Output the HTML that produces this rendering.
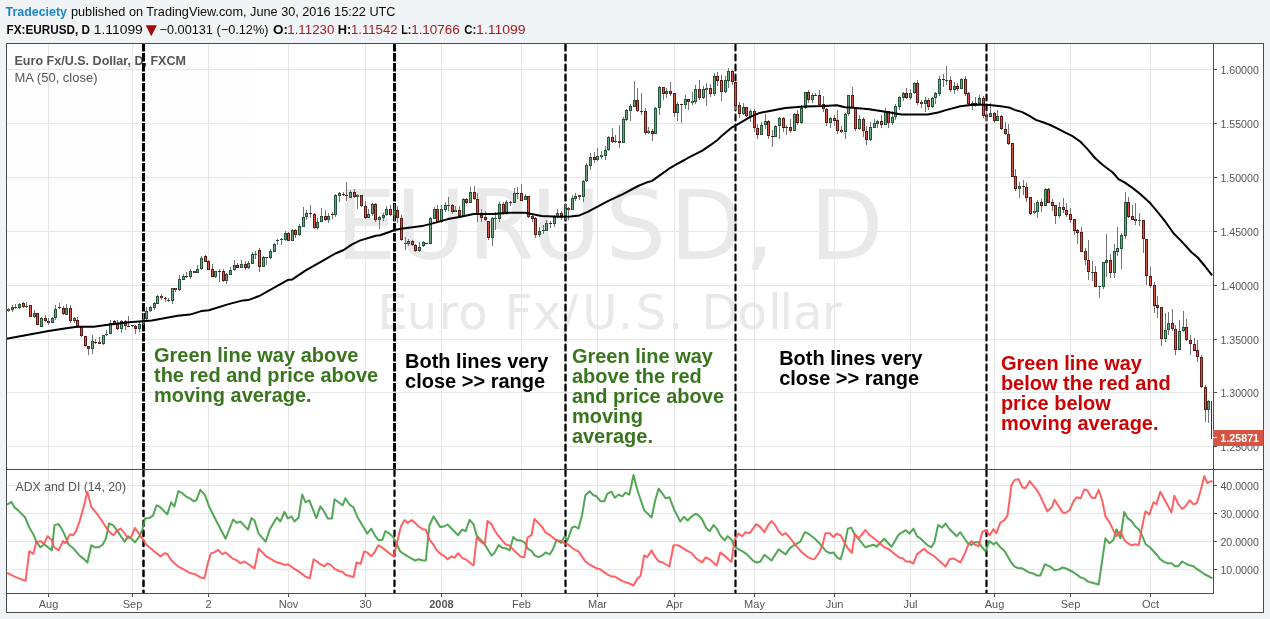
<!DOCTYPE html>
<html><head><meta charset="utf-8"><title>EURUSD chart</title>
<style>html,body{margin:0;padding:0;background:#f0f4f7;}body{width:1270px;height:619px;overflow:hidden}</style></head>
<body>
<svg width="1270" height="619" viewBox="0 0 1270 619" style="display:block;will-change:transform;opacity:0.9999">
<rect width="1270" height="619" fill="#f0f4f7"/>
<rect x="6.5" y="43.5" width="1257.0" height="569.0" fill="#fff"/>
<defs><clipPath id="cpm"><rect x="7.0" y="44.0" width="1206.0" height="425.0"/></clipPath><clipPath id="cp"><rect x="7.0" y="470.0" width="1206.0" height="123.0"/></clipPath></defs>
<path d="M48.5 44.0V593.0M132.5 44.0V593.0M208.5 44.0V593.0M288.5 44.0V593.0M365.5 44.0V593.0M441.5 44.0V593.0M521.5 44.0V593.0M597.5 44.0V593.0M674.5 44.0V593.0M754.5 44.0V593.0M834.5 44.0V593.0M910.5 44.0V593.0M994.5 44.0V593.0M1070.5 44.0V593.0M1150.5 44.0V593.0M7.0 69.5H1212.0M7.0 123.5H1212.0M7.0 177.5H1212.0M7.0 231.5H1212.0M7.0 285.5H1212.0M7.0 339.5H1212.0M7.0 392.5H1212.0M7.0 446.5H1212.0M7.0 485.5H1212.0M7.0 513.5H1212.0M7.0 541.5H1212.0M7.0 569.5H1212.0" stroke="#e6e6e6" stroke-width="1" fill="none" shape-rendering="crispEdges"/>
<g fill="#e9e9e9" font-family="'DejaVu Sans', sans-serif">
<text x="335.8 395.5 467.8 530.7 605.3 669.4 743.9 780.4 809.4" y="259" font-size="96">EURUSD, D</text>
<text x="377.5 406.8 438.4 458.3 490.2 504.7 533.0 562.0 582.3 618.1 635.7 668.1 687.1 701.6 737.6 768.3 779.6 793.0 822.0" y="328.7" font-size="48">Euro Fx/U.S. Dollar</text>
</g>
<g font-family="'Liberation Sans', sans-serif" fill="#555">
<text x="14.5" y="65.3" font-size="12.5" font-weight="bold" fill="#555" textLength="171.5" lengthAdjust="spacingAndGlyphs">Euro Fx/U.S. Dollar, D, FXCM</text>
<text x="14.5" y="81.7" font-size="12.5" textLength="83" lengthAdjust="spacingAndGlyphs">MA (50, close)</text>
<text x="15.5" y="490.8" font-size="12.5" textLength="110.5" lengthAdjust="spacingAndGlyphs">ADX and DI (14, 20)</text>
</g>
<path d="M143.5 43.0V469.0" stroke="#000" stroke-width="3.0" stroke-dasharray="8.5 1.5" fill="none" clip-path="url(#cpm)"/>
<path d="M143.5 470.70V593.0" stroke="#000" stroke-width="2.5" stroke-dasharray="5.30 4.70" stroke-linecap="round" fill="none" clip-path="url(#cp)"/>
<path d="M394.5 43.0V469.0" stroke="#000" stroke-width="2.9" stroke-dasharray="8.5 1.5" fill="none" clip-path="url(#cpm)"/>
<path d="M394.5 470.60V593.0" stroke="#000" stroke-width="2.3" stroke-dasharray="5.50 4.50" stroke-linecap="round" fill="none" clip-path="url(#cp)"/>
<path d="M565.5 44.80V469.0" stroke="#000" stroke-width="2.4" stroke-dasharray="5.60 4.40" stroke-linecap="round" fill="none" clip-path="url(#cpm)"/>
<path d="M565.5 470.57V593.0" stroke="#000" stroke-width="2.25" stroke-dasharray="5.55 4.45" stroke-linecap="round" fill="none" clip-path="url(#cp)"/>
<path d="M735.5 44.68V469.0" stroke="#000" stroke-width="2.15" stroke-dasharray="5.85 4.15" stroke-linecap="round" fill="none" clip-path="url(#cpm)"/>
<path d="M735.5 470.55V593.0" stroke="#000" stroke-width="2.2" stroke-dasharray="5.60 4.40" stroke-linecap="round" fill="none" clip-path="url(#cp)"/>
<path d="M986.5 44.70V469.0" stroke="#000" stroke-width="2.2" stroke-dasharray="5.80 4.20" stroke-linecap="round" fill="none" clip-path="url(#cpm)"/>
<path d="M986.5 470.55V593.0" stroke="#000" stroke-width="2.2" stroke-dasharray="5.60 4.40" stroke-linecap="round" fill="none" clip-path="url(#cp)"/>
<path d="M8.5 308.1V311.7M12.5 304.9V311.7M15.5 304.4V308.5M19.5 303.3V308.5M23.5 302.3V307.8M26.5 302.3V307.8M30.5 304.9V317.4M34.5 310.4V318.2M37.5 312.5V325.4M41.5 317.4V327.4M45.5 315.3V322.2M48.5 318.2V324.6M52.5 317.4V323.0M55.5 305.2V319.5M59.5 303.3V308.9M63.5 306.0V314.6M66.5 303.9V315.4M70.5 305.2V322.7M74.5 317.0V323.3M77.5 317.4V327.9M81.5 327.0V336.7M85.5 335.9V346.9M88.5 345.6V354.5M92.5 335.1V353.7M95.5 339.2V344.0M99.5 337.2V344.0M103.5 334.6V344.8M106.5 330.3V335.9M110.5 320.1V334.0M114.5 320.1V324.9M117.5 320.1V329.8M121.5 320.1V332.7M125.5 320.1V329.8M128.5 315.7V327.0M132.5 324.6V327.0M135.5 325.4V333.5M139.5 321.1V331.9M143.5 313.3V324.6M146.5 307.3V320.6M150.5 306.0V311.7M154.5 302.3V309.8M157.5 294.7V303.9M161.5 294.2V299.6M165.5 296.8V301.7M168.5 298.0V301.7M172.5 287.8V303.9M175.5 287.5V292.3M179.5 275.0V290.7M183.5 273.7V280.2M186.5 272.1V277.8M190.5 268.9V278.6M194.5 270.5V273.2M197.5 265.2V272.9M201.5 255.9V269.7M205.5 254.8V262.1M208.5 260.0V270.1M212.5 264.0V276.9M215.5 270.5V277.7M219.5 269.1V281.7M223.5 269.1V281.7M226.5 273.3V283.8M230.5 267.2V275.3M234.5 260.0V270.8M237.5 263.2V268.0M241.5 260.0V268.0M245.5 260.8V269.7M248.5 260.8V268.5M252.5 251.9V264.3M255.5 250.8V258.8M259.5 247.9V271.8M263.5 256.3V267.2M266.5 256.7V264.8M270.5 249.1V258.8M274.5 243.3V252.2M277.5 239.0V244.6M281.5 237.8V244.6M285.5 231.4V240.6M288.5 232.0V241.4M292.5 228.9V241.1M295.5 229.3V237.8M299.5 223.9V236.1M303.5 207.1V227.2M306.5 209.9V220.1M310.5 205.0V218.0M314.5 213.1V228.8M317.5 218.0V229.8M321.5 208.3V222.0M325.5 209.9V220.7M328.5 213.1V222.8M332.5 211.5V218.8M335.5 194.2V216.8M339.5 191.6V201.8M343.5 192.1V196.2M346.5 181.9V200.7M350.5 190.0V198.3M354.5 189.4V198.1M357.5 194.2V208.8M361.5 194.9V206.7M365.5 201.0V218.8M368.5 209.1V218.4M372.5 203.4V216.3M375.5 203.4V221.7M379.5 216.3V228.5M383.5 213.1V220.7M386.5 206.2V216.4M390.5 205.1V216.4M394.5 203.8V220.7M397.5 206.2V223.2M401.5 215.1V240.9M405.5 237.4V249.8M408.5 239.3V245.8M412.5 240.1V245.8M415.5 244.2V251.8M419.5 242.2V251.8M423.5 241.3V247.1M426.5 242.5V243.7M430.5 217.0V244.2M434.5 207.3V219.1M437.5 205.1V222.8M441.5 205.1V222.8M445.5 202.2V211.8M448.5 197.0V210.6M452.5 203.8V213.5M455.5 206.2V212.2M459.5 206.2V216.4M463.5 198.1V216.4M466.5 198.1V203.8M470.5 187.3V203.3M474.5 186.0V199.7M477.5 193.3V221.5M481.5 208.9V221.5M485.5 211.0V220.7M488.5 220.7V239.6M492.5 217.0V245.8M495.5 212.2V230.4M499.5 201.8V221.9M503.5 202.2V214.8M506.5 200.2V214.8M510.5 201.3V205.7M514.5 188.1V203.4M517.5 187.3V198.9M521.5 183.9V200.9M525.5 194.1V200.2M528.5 195.7V218.3M532.5 213.5V221.5M535.5 217.0V238.0M539.5 227.2V236.9M543.5 224.5V233.7M546.5 220.3V231.2M550.5 220.7V228.0M554.5 215.4V226.7M557.5 208.9V218.0M561.5 211.0V219.9M565.5 203.4V219.9M568.5 207.3V219.9M572.5 194.9V210.2M575.5 193.3V200.9M579.5 194.9V199.7M583.5 180.1V201.7M586.5 163.3V181.6M590.5 153.2V169.6M594.5 152.3V162.7M597.5 148.2V160.8M601.5 151.3V158.5M605.5 145.6V160.0M608.5 135.9V151.3M612.5 128.2V143.2M615.5 135.1V143.2M619.5 125.4V147.7M623.5 116.9V143.2M626.5 109.3V120.6M630.5 103.9V121.1M634.5 81.0V107.2M637.5 88.3V111.7M641.5 93.1V114.9M645.5 108.1V134.6M648.5 127.0V134.0M652.5 128.7V140.8M655.5 106.8V134.0M659.5 85.8V114.6M663.5 86.7V99.6M666.5 88.3V98.0M670.5 81.8V95.9M674.5 92.8V116.9M677.5 102.3V120.6M681.5 103.6V122.7M685.5 94.7V108.5M688.5 98.8V109.8M692.5 92.0V104.9M695.5 85.0V103.6M699.5 80.2V99.6M703.5 85.8V98.8M706.5 83.1V105.7M710.5 84.2V96.8M714.5 73.2V95.9M717.5 72.1V86.2M721.5 74.9V100.7M725.5 76.2V92.8M728.5 67.8V87.8M732.5 70.0V84.6M735.5 81.8V110.1M739.5 102.0V117.8M743.5 102.8V114.9M746.5 106.8V117.4M750.5 109.3V121.7M754.5 108.9V131.9M757.5 123.8V138.8M761.5 122.2V135.1M765.5 114.1V128.7M768.5 119.8V138.8M772.5 129.8V146.9M775.5 124.6V137.2M779.5 116.5V138.8M783.5 116.5V131.9M786.5 124.6V134.6M790.5 119.0V132.7M794.5 113.0V131.1M797.5 110.1V125.4M801.5 105.2V123.8M805.5 92.0V109.3M808.5 89.9V102.8M812.5 93.1V102.8M815.5 93.1V96.3M819.5 89.9V105.2M823.5 95.9V111.7M826.5 107.7V125.9M830.5 116.9V127.5M834.5 114.9V125.9M837.5 110.1V134.0M841.5 125.9V132.7M845.5 113.0V138.8M848.5 94.7V115.7M852.5 87.1V108.5M855.5 106.8V130.8M859.5 114.9V129.8M863.5 116.9V136.7M866.5 126.2V144.8M870.5 122.2V140.8M874.5 119.0V128.2M877.5 119.8V127.5M881.5 114.9V127.9M885.5 108.1V125.4M888.5 110.9V127.9M892.5 111.4V124.6M895.5 103.9V119.8M899.5 96.3V110.1M903.5 92.3V101.2M906.5 87.8V98.8M910.5 89.1V100.1M914.5 81.8V93.9M917.5 79.7V104.9M921.5 100.1V108.1M925.5 97.2V112.0M928.5 98.0V110.1M932.5 96.8V108.1M935.5 92.0V104.4M939.5 75.8V95.9M943.5 74.2V86.8M946.5 65.8V84.7M950.5 75.8V92.0M954.5 82.0V93.9M957.5 83.1V90.7M961.5 77.8V89.3M965.5 75.8V96.0M968.5 92.3V105.7M972.5 100.9V109.8M975.5 97.2V106.5M979.5 94.9V104.6M983.5 96.0V117.9M986.5 112.2V121.1M990.5 103.3V117.0M994.5 112.2V123.0M997.5 110.1V121.1M1001.5 115.4V130.0M1005.5 121.9V135.3M1008.5 124.0V144.5M1012.5 142.6V177.4M1015.5 169.3V190.8M1019.5 182.2V197.5M1023.5 180.1V194.6M1026.5 183.0V201.6M1030.5 196.7V214.5M1034.5 203.2V214.0M1037.5 200.0V217.7M1041.5 199.2V212.4M1045.5 188.2V206.4M1048.5 188.2V203.2M1052.5 199.2V210.5M1055.5 204.8V223.9M1059.5 202.1V217.7M1063.5 198.0V212.9M1066.5 203.2V216.9M1070.5 207.9V222.8M1074.5 218.8V234.9M1077.5 229.3V243.8M1081.5 227.2V252.2M1085.5 248.2V264.8M1088.5 240.1V280.0M1092.5 261.1V280.8M1095.5 266.0V286.8M1099.5 285.7V297.8M1103.5 261.5V288.9M1106.5 234.2V276.8M1110.5 254.3V277.7M1114.5 244.3V277.7M1117.5 227.2V255.9M1121.5 233.0V268.9M1125.5 192.1V239.0M1128.5 197.0V218.0M1132.5 205.0V220.4M1135.5 203.1V224.9M1139.5 213.1V225.7M1143.5 219.6V252.7M1146.5 238.8V284.9M1150.5 267.1V287.8M1154.5 282.1V312.8M1157.5 296.2V318.0M1161.5 306.7V345.8M1165.5 313.2V341.9M1168.5 312.4V334.5M1172.5 309.1V330.6M1175.5 324.5V355.0M1179.5 319.9V350.0M1183.5 311.2V331.7M1186.5 319.3V340.9M1190.5 335.0V355.0M1194.5 338.2V351.1M1197.5 340.0V361.7M1201.5 355.1V388.0M1205.5 385.3V421.7M1208.5 400.4V422.6" stroke="#737375" stroke-width="1" fill="none" shape-rendering="crispEdges"/>
<g shape-rendering="crispEdges">
<rect x="7" y="309" width="3" height="2" fill="#225437"/><rect x="8" y="309" width="1" height="2" fill="#6ba583" fill-opacity="0.55"/><rect x="11" y="307" width="3" height="3" fill="#225437"/><rect x="12" y="308" width="1" height="1" fill="#6ba583"/><rect x="14" y="307" width="3" height="1" fill="#225437"/><rect x="18" y="304" width="3" height="4" fill="#225437"/><rect x="19" y="305" width="1" height="2" fill="#6ba583"/><rect x="25" y="306" width="3" height="1" fill="#225437"/><rect x="33" y="313" width="3" height="4" fill="#225437"/><rect x="34" y="314" width="1" height="2" fill="#6ba583"/><rect x="40" y="318" width="3" height="9" fill="#225437"/><rect x="41" y="319" width="1" height="7" fill="#6ba583"/><rect x="51" y="318" width="3" height="5" fill="#225437"/><rect x="52" y="319" width="1" height="3" fill="#6ba583"/><rect x="54" y="309" width="3" height="9" fill="#225437"/><rect x="55" y="310" width="1" height="7" fill="#6ba583"/><rect x="65" y="308" width="3" height="7" fill="#225437"/><rect x="66" y="309" width="1" height="5" fill="#6ba583"/><rect x="73" y="318" width="3" height="3" fill="#225437"/><rect x="74" y="319" width="1" height="1" fill="#6ba583"/><rect x="91" y="341" width="3" height="8" fill="#225437"/><rect x="92" y="342" width="1" height="6" fill="#6ba583"/><rect x="102" y="335" width="3" height="9" fill="#225437"/><rect x="103" y="336" width="1" height="7" fill="#6ba583"/><rect x="105" y="334" width="3" height="1" fill="#225437"/><rect x="109" y="323" width="3" height="11" fill="#225437"/><rect x="110" y="324" width="1" height="9" fill="#6ba583"/><rect x="120" y="321" width="3" height="8" fill="#225437"/><rect x="121" y="322" width="1" height="6" fill="#6ba583"/><rect x="138" y="324" width="3" height="5" fill="#225437"/><rect x="139" y="325" width="1" height="3" fill="#6ba583"/><rect x="142" y="319" width="3" height="5" fill="#225437"/><rect x="143" y="320" width="1" height="3" fill="#6ba583"/><rect x="145" y="311" width="3" height="8" fill="#225437"/><rect x="146" y="312" width="1" height="6" fill="#6ba583"/><rect x="149" y="307" width="3" height="4" fill="#225437"/><rect x="150" y="308" width="1" height="2" fill="#6ba583"/><rect x="153" y="303" width="3" height="5" fill="#225437"/><rect x="154" y="304" width="1" height="3" fill="#6ba583"/><rect x="156" y="296" width="3" height="8" fill="#225437"/><rect x="157" y="297" width="1" height="6" fill="#6ba583"/><rect x="167" y="300" width="3" height="1" fill="#225437"/><rect x="171" y="288" width="3" height="13" fill="#225437"/><rect x="172" y="289" width="1" height="11" fill="#6ba583"/><rect x="178" y="279" width="3" height="11" fill="#225437"/><rect x="179" y="280" width="1" height="9" fill="#6ba583"/><rect x="182" y="276" width="3" height="4" fill="#225437"/><rect x="183" y="277" width="1" height="2" fill="#6ba583"/><rect x="189" y="271" width="3" height="6" fill="#225437"/><rect x="190" y="272" width="1" height="4" fill="#6ba583"/><rect x="196" y="269" width="3" height="4" fill="#225437"/><rect x="197" y="270" width="1" height="2" fill="#6ba583"/><rect x="200" y="258" width="3" height="11" fill="#225437"/><rect x="201" y="259" width="1" height="9" fill="#6ba583"/><rect x="214" y="271" width="3" height="6" fill="#225437"/><rect x="215" y="272" width="1" height="4" fill="#6ba583"/><rect x="225" y="274" width="3" height="7" fill="#225437"/><rect x="226" y="275" width="1" height="5" fill="#6ba583"/><rect x="229" y="270" width="3" height="5" fill="#225437"/><rect x="230" y="271" width="1" height="3" fill="#6ba583"/><rect x="233" y="265" width="3" height="5" fill="#225437"/><rect x="234" y="266" width="1" height="3" fill="#6ba583"/><rect x="240" y="264" width="3" height="4" fill="#225437"/><rect x="241" y="265" width="1" height="2" fill="#6ba583"/><rect x="247" y="263" width="3" height="5" fill="#225437"/><rect x="248" y="264" width="1" height="3" fill="#6ba583"/><rect x="251" y="254" width="3" height="10" fill="#225437"/><rect x="252" y="255" width="1" height="8" fill="#6ba583"/><rect x="254" y="254" width="3" height="1" fill="#225437"/><rect x="262" y="257" width="3" height="10" fill="#225437"/><rect x="263" y="258" width="1" height="8" fill="#6ba583"/><rect x="265" y="257" width="3" height="1" fill="#225437"/><rect x="269" y="251" width="3" height="7" fill="#225437"/><rect x="270" y="252" width="1" height="5" fill="#6ba583"/><rect x="273" y="244" width="3" height="8" fill="#225437"/><rect x="274" y="245" width="1" height="6" fill="#6ba583"/><rect x="276" y="240" width="3" height="1" fill="#225437"/><rect x="280" y="239" width="3" height="1" fill="#225437"/><rect x="284" y="233" width="3" height="7" fill="#225437"/><rect x="285" y="234" width="1" height="5" fill="#6ba583"/><rect x="291" y="230" width="3" height="11" fill="#225437"/><rect x="292" y="231" width="1" height="9" fill="#6ba583"/><rect x="298" y="226" width="3" height="9" fill="#225437"/><rect x="299" y="227" width="1" height="7" fill="#6ba583"/><rect x="302" y="217" width="3" height="10" fill="#225437"/><rect x="303" y="218" width="1" height="8" fill="#6ba583"/><rect x="305" y="213" width="3" height="4" fill="#225437"/><rect x="306" y="214" width="1" height="2" fill="#6ba583"/><rect x="316" y="222" width="3" height="6" fill="#225437"/><rect x="317" y="223" width="1" height="4" fill="#6ba583"/><rect x="320" y="216" width="3" height="6" fill="#225437"/><rect x="321" y="217" width="1" height="4" fill="#6ba583"/><rect x="327" y="216" width="3" height="4" fill="#225437"/><rect x="328" y="217" width="1" height="2" fill="#6ba583"/><rect x="334" y="195" width="3" height="20" fill="#225437"/><rect x="335" y="196" width="1" height="18" fill="#6ba583"/><rect x="338" y="193" width="3" height="3" fill="#225437"/><rect x="339" y="194" width="1" height="1" fill="#6ba583"/><rect x="349" y="192" width="3" height="6" fill="#225437"/><rect x="350" y="193" width="1" height="4" fill="#6ba583"/><rect x="356" y="195" width="3" height="2" fill="#225437"/><rect x="357" y="195" width="1" height="2" fill="#6ba583" fill-opacity="0.55"/><rect x="367" y="214" width="3" height="4" fill="#225437"/><rect x="368" y="215" width="1" height="2" fill="#6ba583"/><rect x="371" y="204" width="3" height="10" fill="#225437"/><rect x="372" y="205" width="1" height="8" fill="#6ba583"/><rect x="378" y="217" width="3" height="3" fill="#225437"/><rect x="379" y="218" width="1" height="1" fill="#6ba583"/><rect x="382" y="215" width="3" height="3" fill="#225437"/><rect x="383" y="216" width="1" height="1" fill="#6ba583"/><rect x="385" y="209" width="3" height="6" fill="#225437"/><rect x="386" y="210" width="1" height="4" fill="#6ba583"/><rect x="393" y="210" width="3" height="6" fill="#225437"/><rect x="394" y="211" width="1" height="4" fill="#6ba583"/><rect x="404" y="243" width="3" height="1" fill="#225437"/><rect x="407" y="241" width="3" height="3" fill="#225437"/><rect x="408" y="242" width="1" height="1" fill="#6ba583"/><rect x="418" y="247" width="3" height="4" fill="#225437"/><rect x="419" y="248" width="1" height="2" fill="#6ba583"/><rect x="422" y="242" width="3" height="4" fill="#225437"/><rect x="423" y="243" width="1" height="2" fill="#6ba583"/><rect x="429" y="218" width="3" height="26" fill="#225437"/><rect x="430" y="219" width="1" height="24" fill="#6ba583"/><rect x="433" y="209" width="3" height="10" fill="#225437"/><rect x="434" y="210" width="1" height="8" fill="#6ba583"/><rect x="440" y="209" width="3" height="13" fill="#225437"/><rect x="441" y="210" width="1" height="11" fill="#6ba583"/><rect x="444" y="205" width="3" height="5" fill="#225437"/><rect x="445" y="206" width="1" height="3" fill="#6ba583"/><rect x="447" y="205" width="3" height="1" fill="#225437"/><rect x="454" y="210" width="3" height="2" fill="#225437"/><rect x="455" y="210" width="1" height="2" fill="#6ba583" fill-opacity="0.55"/><rect x="462" y="199" width="3" height="17" fill="#225437"/><rect x="463" y="200" width="1" height="15" fill="#6ba583"/><rect x="469" y="192" width="3" height="11" fill="#225437"/><rect x="470" y="193" width="1" height="9" fill="#6ba583"/><rect x="491" y="218" width="3" height="20" fill="#225437"/><rect x="492" y="219" width="1" height="18" fill="#6ba583"/><rect x="494" y="218" width="3" height="1" fill="#225437"/><rect x="498" y="204" width="3" height="15" fill="#225437"/><rect x="499" y="205" width="1" height="13" fill="#6ba583"/><rect x="505" y="202" width="3" height="12" fill="#225437"/><rect x="506" y="203" width="1" height="10" fill="#6ba583"/><rect x="513" y="193" width="3" height="10" fill="#225437"/><rect x="514" y="194" width="1" height="8" fill="#6ba583"/><rect x="524" y="196" width="3" height="4" fill="#225437"/><rect x="525" y="197" width="1" height="2" fill="#6ba583"/><rect x="538" y="231" width="3" height="4" fill="#225437"/><rect x="539" y="232" width="1" height="2" fill="#6ba583"/><rect x="542" y="230" width="3" height="1" fill="#225437"/><rect x="545" y="223" width="3" height="8" fill="#225437"/><rect x="546" y="224" width="1" height="6" fill="#6ba583"/><rect x="553" y="217" width="3" height="7" fill="#225437"/><rect x="554" y="218" width="1" height="5" fill="#6ba583"/><rect x="556" y="213" width="3" height="4" fill="#225437"/><rect x="557" y="214" width="1" height="2" fill="#6ba583"/><rect x="564" y="208" width="3" height="8" fill="#225437"/><rect x="565" y="209" width="1" height="6" fill="#6ba583"/><rect x="571" y="198" width="3" height="12" fill="#225437"/><rect x="572" y="199" width="1" height="10" fill="#6ba583"/><rect x="574" y="196" width="3" height="3" fill="#225437"/><rect x="575" y="197" width="1" height="1" fill="#6ba583"/><rect x="582" y="181" width="3" height="16" fill="#225437"/><rect x="583" y="182" width="1" height="14" fill="#6ba583"/><rect x="585" y="165" width="3" height="16" fill="#225437"/><rect x="586" y="166" width="1" height="14" fill="#6ba583"/><rect x="589" y="157" width="3" height="9" fill="#225437"/><rect x="590" y="158" width="1" height="7" fill="#6ba583"/><rect x="596" y="156" width="3" height="4" fill="#225437"/><rect x="597" y="157" width="1" height="2" fill="#6ba583"/><rect x="600" y="155" width="3" height="2" fill="#225437"/><rect x="601" y="155" width="1" height="2" fill="#6ba583" fill-opacity="0.55"/><rect x="604" y="150" width="3" height="6" fill="#225437"/><rect x="605" y="151" width="1" height="4" fill="#6ba583"/><rect x="607" y="137" width="3" height="13" fill="#225437"/><rect x="608" y="138" width="1" height="11" fill="#6ba583"/><rect x="622" y="119" width="3" height="24" fill="#225437"/><rect x="623" y="120" width="1" height="22" fill="#6ba583"/><rect x="625" y="110" width="3" height="10" fill="#225437"/><rect x="626" y="111" width="1" height="8" fill="#6ba583"/><rect x="629" y="106" width="3" height="5" fill="#225437"/><rect x="630" y="107" width="1" height="3" fill="#6ba583"/><rect x="633" y="100" width="3" height="7" fill="#225437"/><rect x="634" y="101" width="1" height="5" fill="#6ba583"/><rect x="640" y="111" width="3" height="1" fill="#225437"/><rect x="647" y="131" width="3" height="2" fill="#225437"/><rect x="648" y="131" width="1" height="2" fill="#6ba583" fill-opacity="0.55"/><rect x="654" y="108" width="3" height="26" fill="#225437"/><rect x="655" y="109" width="1" height="24" fill="#6ba583"/><rect x="658" y="87" width="3" height="21" fill="#225437"/><rect x="659" y="88" width="1" height="19" fill="#6ba583"/><rect x="665" y="91" width="3" height="3" fill="#225437"/><rect x="666" y="92" width="1" height="1" fill="#6ba583"/><rect x="676" y="104" width="3" height="9" fill="#225437"/><rect x="677" y="105" width="1" height="7" fill="#6ba583"/><rect x="684" y="99" width="3" height="6" fill="#225437"/><rect x="685" y="100" width="1" height="4" fill="#6ba583"/><rect x="691" y="101" width="3" height="2" fill="#225437"/><rect x="692" y="101" width="1" height="2" fill="#6ba583" fill-opacity="0.55"/><rect x="694" y="89" width="3" height="13" fill="#225437"/><rect x="695" y="90" width="1" height="11" fill="#6ba583"/><rect x="702" y="89" width="3" height="9" fill="#225437"/><rect x="703" y="90" width="1" height="7" fill="#6ba583"/><rect x="705" y="88" width="3" height="2" fill="#225437"/><rect x="706" y="88" width="1" height="2" fill="#6ba583" fill-opacity="0.55"/><rect x="713" y="76" width="3" height="18" fill="#225437"/><rect x="714" y="77" width="1" height="16" fill="#6ba583"/><rect x="724" y="80" width="3" height="12" fill="#225437"/><rect x="725" y="81" width="1" height="10" fill="#6ba583"/><rect x="727" y="71" width="3" height="10" fill="#225437"/><rect x="728" y="72" width="1" height="8" fill="#6ba583"/><rect x="742" y="107" width="3" height="7" fill="#225437"/><rect x="743" y="108" width="1" height="5" fill="#6ba583"/><rect x="749" y="111" width="3" height="6" fill="#225437"/><rect x="750" y="112" width="1" height="4" fill="#6ba583"/><rect x="760" y="125" width="3" height="10" fill="#225437"/><rect x="761" y="126" width="1" height="8" fill="#6ba583"/><rect x="764" y="121" width="3" height="4" fill="#225437"/><rect x="765" y="122" width="1" height="2" fill="#6ba583"/><rect x="774" y="126" width="3" height="11" fill="#225437"/><rect x="775" y="127" width="1" height="9" fill="#6ba583"/><rect x="778" y="118" width="3" height="8" fill="#225437"/><rect x="779" y="119" width="1" height="6" fill="#6ba583"/><rect x="793" y="114" width="3" height="17" fill="#225437"/><rect x="794" y="115" width="1" height="15" fill="#6ba583"/><rect x="800" y="108" width="3" height="15" fill="#225437"/><rect x="801" y="109" width="1" height="13" fill="#6ba583"/><rect x="804" y="92" width="3" height="16" fill="#225437"/><rect x="805" y="93" width="1" height="14" fill="#6ba583"/><rect x="811" y="95" width="3" height="5" fill="#225437"/><rect x="812" y="96" width="1" height="3" fill="#6ba583"/><rect x="829" y="118" width="3" height="5" fill="#225437"/><rect x="830" y="119" width="1" height="3" fill="#6ba583"/><rect x="844" y="114" width="3" height="18" fill="#225437"/><rect x="845" y="115" width="1" height="16" fill="#6ba583"/><rect x="847" y="95" width="3" height="19" fill="#225437"/><rect x="848" y="96" width="1" height="17" fill="#6ba583"/><rect x="858" y="119" width="3" height="10" fill="#225437"/><rect x="859" y="120" width="1" height="8" fill="#6ba583"/><rect x="869" y="127" width="3" height="13" fill="#225437"/><rect x="870" y="128" width="1" height="11" fill="#6ba583"/><rect x="873" y="123" width="3" height="5" fill="#225437"/><rect x="874" y="124" width="1" height="3" fill="#6ba583"/><rect x="876" y="121" width="3" height="3" fill="#225437"/><rect x="877" y="122" width="1" height="1" fill="#6ba583"/><rect x="884" y="111" width="3" height="14" fill="#225437"/><rect x="885" y="112" width="1" height="12" fill="#6ba583"/><rect x="891" y="117" width="3" height="6" fill="#225437"/><rect x="892" y="118" width="1" height="4" fill="#6ba583"/><rect x="894" y="106" width="3" height="11" fill="#225437"/><rect x="895" y="107" width="1" height="9" fill="#6ba583"/><rect x="898" y="97" width="3" height="10" fill="#225437"/><rect x="899" y="98" width="1" height="8" fill="#6ba583"/><rect x="902" y="93" width="3" height="5" fill="#225437"/><rect x="903" y="94" width="1" height="3" fill="#6ba583"/><rect x="909" y="93" width="3" height="5" fill="#225437"/><rect x="910" y="94" width="1" height="3" fill="#6ba583"/><rect x="913" y="83" width="3" height="10" fill="#225437"/><rect x="914" y="84" width="1" height="8" fill="#6ba583"/><rect x="924" y="100" width="3" height="4" fill="#225437"/><rect x="925" y="101" width="1" height="2" fill="#6ba583"/><rect x="931" y="98" width="3" height="9" fill="#225437"/><rect x="932" y="99" width="1" height="7" fill="#6ba583"/><rect x="934" y="93" width="3" height="5" fill="#225437"/><rect x="935" y="94" width="1" height="3" fill="#6ba583"/><rect x="938" y="79" width="3" height="15" fill="#225437"/><rect x="939" y="80" width="1" height="13" fill="#6ba583"/><rect x="945" y="80" width="3" height="1" fill="#225437"/><rect x="953" y="86" width="3" height="4" fill="#225437"/><rect x="954" y="87" width="1" height="2" fill="#6ba583"/><rect x="960" y="79" width="3" height="10" fill="#225437"/><rect x="961" y="80" width="1" height="8" fill="#6ba583"/><rect x="974" y="103" width="3" height="3" fill="#225437"/><rect x="975" y="104" width="1" height="1" fill="#6ba583"/><rect x="978" y="98" width="3" height="6" fill="#225437"/><rect x="979" y="99" width="1" height="4" fill="#6ba583"/><rect x="989" y="113" width="3" height="4" fill="#225437"/><rect x="990" y="114" width="1" height="2" fill="#6ba583"/><rect x="996" y="116" width="3" height="5" fill="#225437"/><rect x="997" y="117" width="1" height="3" fill="#6ba583"/><rect x="1018" y="186" width="3" height="3" fill="#225437"/><rect x="1019" y="187" width="1" height="1" fill="#6ba583"/><rect x="1033" y="211" width="3" height="2" fill="#225437"/><rect x="1034" y="211" width="1" height="2" fill="#6ba583" fill-opacity="0.55"/><rect x="1036" y="202" width="3" height="10" fill="#225437"/><rect x="1037" y="203" width="1" height="8" fill="#6ba583"/><rect x="1044" y="189" width="3" height="17" fill="#225437"/><rect x="1045" y="190" width="1" height="15" fill="#6ba583"/><rect x="1058" y="207" width="3" height="9" fill="#225437"/><rect x="1059" y="208" width="1" height="7" fill="#6ba583"/><rect x="1091" y="272" width="3" height="1" fill="#225437"/><rect x="1098" y="286" width="3" height="1" fill="#225437"/><rect x="1102" y="262" width="3" height="25" fill="#225437"/><rect x="1103" y="263" width="1" height="23" fill="#6ba583"/><rect x="1105" y="260" width="3" height="3" fill="#225437"/><rect x="1106" y="261" width="1" height="1" fill="#6ba583"/><rect x="1113" y="251" width="3" height="22" fill="#225437"/><rect x="1114" y="252" width="1" height="20" fill="#6ba583"/><rect x="1116" y="248" width="3" height="4" fill="#225437"/><rect x="1117" y="249" width="1" height="2" fill="#6ba583"/><rect x="1120" y="235" width="3" height="14" fill="#225437"/><rect x="1121" y="236" width="1" height="12" fill="#6ba583"/><rect x="1124" y="202" width="3" height="34" fill="#225437"/><rect x="1125" y="203" width="1" height="32" fill="#6ba583"/><rect x="1138" y="220" width="3" height="1" fill="#225437"/><rect x="1164" y="330" width="3" height="9" fill="#225437"/><rect x="1165" y="331" width="1" height="7" fill="#6ba583"/><rect x="1167" y="323" width="3" height="7" fill="#225437"/><rect x="1168" y="324" width="1" height="5" fill="#6ba583"/><rect x="1178" y="331" width="3" height="19" fill="#225437"/><rect x="1179" y="332" width="1" height="17" fill="#6ba583"/><rect x="1182" y="327" width="3" height="4" fill="#225437"/><rect x="1183" y="328" width="1" height="2" fill="#6ba583"/><rect x="1207" y="401" width="3" height="9" fill="#225437"/><rect x="1208" y="402" width="1" height="7" fill="#6ba583"/>
<rect x="22" y="303" width="3" height="4" fill="#5b1a13"/><rect x="23" y="304" width="1" height="2" fill="#d75442"/><rect x="29" y="305" width="3" height="12" fill="#5b1a13"/><rect x="30" y="306" width="1" height="10" fill="#d75442"/><rect x="36" y="313" width="3" height="12" fill="#5b1a13"/><rect x="37" y="314" width="1" height="10" fill="#d75442"/><rect x="44" y="318" width="3" height="3" fill="#5b1a13"/><rect x="45" y="319" width="1" height="1" fill="#d75442"/><rect x="47" y="321" width="3" height="2" fill="#5b1a13"/><rect x="48" y="321" width="1" height="2" fill="#d75442" fill-opacity="0.55"/><rect x="58" y="307" width="3" height="1" fill="#5b1a13"/><rect x="62" y="308" width="3" height="6" fill="#5b1a13"/><rect x="63" y="309" width="1" height="4" fill="#d75442"/><rect x="69" y="308" width="3" height="13" fill="#5b1a13"/><rect x="70" y="309" width="1" height="11" fill="#d75442"/><rect x="76" y="320" width="3" height="7" fill="#5b1a13"/><rect x="77" y="321" width="1" height="5" fill="#d75442"/><rect x="80" y="327" width="3" height="9" fill="#5b1a13"/><rect x="81" y="328" width="1" height="7" fill="#d75442"/><rect x="84" y="336" width="3" height="10" fill="#5b1a13"/><rect x="85" y="337" width="1" height="8" fill="#d75442"/><rect x="87" y="346" width="3" height="3" fill="#5b1a13"/><rect x="88" y="347" width="1" height="1" fill="#d75442"/><rect x="94" y="342" width="3" height="1" fill="#5b1a13"/><rect x="98" y="342" width="3" height="2" fill="#5b1a13"/><rect x="99" y="342" width="1" height="2" fill="#d75442" fill-opacity="0.55"/><rect x="113" y="321" width="3" height="3" fill="#5b1a13"/><rect x="114" y="322" width="1" height="1" fill="#d75442"/><rect x="116" y="324" width="3" height="5" fill="#5b1a13"/><rect x="117" y="325" width="1" height="3" fill="#d75442"/><rect x="124" y="321" width="3" height="5" fill="#5b1a13"/><rect x="125" y="322" width="1" height="3" fill="#d75442"/><rect x="127" y="326" width="3" height="1" fill="#5b1a13"/><rect x="131" y="325" width="3" height="1" fill="#5b1a13"/><rect x="134" y="326" width="3" height="3" fill="#5b1a13"/><rect x="135" y="327" width="1" height="1" fill="#d75442"/><rect x="160" y="296" width="3" height="2" fill="#5b1a13"/><rect x="161" y="296" width="1" height="2" fill="#d75442" fill-opacity="0.55"/><rect x="164" y="298" width="3" height="1" fill="#5b1a13"/><rect x="174" y="288" width="3" height="2" fill="#5b1a13"/><rect x="175" y="288" width="1" height="2" fill="#d75442" fill-opacity="0.55"/><rect x="185" y="276" width="3" height="1" fill="#5b1a13"/><rect x="193" y="271" width="3" height="2" fill="#5b1a13"/><rect x="194" y="271" width="1" height="2" fill="#d75442" fill-opacity="0.55"/><rect x="204" y="256" width="3" height="6" fill="#5b1a13"/><rect x="205" y="257" width="1" height="4" fill="#d75442"/><rect x="207" y="261" width="3" height="9" fill="#5b1a13"/><rect x="208" y="262" width="1" height="7" fill="#d75442"/><rect x="211" y="269" width="3" height="8" fill="#5b1a13"/><rect x="212" y="270" width="1" height="6" fill="#d75442"/><rect x="218" y="271" width="3" height="1" fill="#5b1a13"/><rect x="222" y="271" width="3" height="10" fill="#5b1a13"/><rect x="223" y="272" width="1" height="8" fill="#d75442"/><rect x="236" y="265" width="3" height="3" fill="#5b1a13"/><rect x="237" y="266" width="1" height="1" fill="#d75442"/><rect x="244" y="264" width="3" height="4" fill="#5b1a13"/><rect x="245" y="265" width="1" height="2" fill="#d75442"/><rect x="258" y="250" width="3" height="17" fill="#5b1a13"/><rect x="259" y="251" width="1" height="15" fill="#d75442"/><rect x="287" y="233" width="3" height="8" fill="#5b1a13"/><rect x="288" y="234" width="1" height="6" fill="#d75442"/><rect x="294" y="230" width="3" height="5" fill="#5b1a13"/><rect x="295" y="231" width="1" height="3" fill="#d75442"/><rect x="309" y="213" width="3" height="1" fill="#5b1a13"/><rect x="313" y="214" width="3" height="14" fill="#5b1a13"/><rect x="314" y="215" width="1" height="12" fill="#d75442"/><rect x="324" y="216" width="3" height="4" fill="#5b1a13"/><rect x="325" y="217" width="1" height="2" fill="#d75442"/><rect x="331" y="214" width="3" height="1" fill="#5b1a13"/><rect x="342" y="194" width="3" height="1" fill="#5b1a13"/><rect x="345" y="195" width="3" height="1" fill="#5b1a13"/><rect x="353" y="192" width="3" height="5" fill="#5b1a13"/><rect x="354" y="193" width="1" height="3" fill="#d75442"/><rect x="360" y="195" width="3" height="11" fill="#5b1a13"/><rect x="361" y="196" width="1" height="9" fill="#d75442"/><rect x="364" y="206" width="3" height="12" fill="#5b1a13"/><rect x="365" y="207" width="1" height="10" fill="#d75442"/><rect x="374" y="204" width="3" height="16" fill="#5b1a13"/><rect x="375" y="205" width="1" height="14" fill="#d75442"/><rect x="389" y="209" width="3" height="6" fill="#5b1a13"/><rect x="390" y="210" width="1" height="4" fill="#d75442"/><rect x="396" y="210" width="3" height="8" fill="#5b1a13"/><rect x="397" y="211" width="1" height="6" fill="#d75442"/><rect x="400" y="218" width="3" height="22" fill="#5b1a13"/><rect x="401" y="219" width="1" height="20" fill="#d75442"/><rect x="411" y="241" width="3" height="4" fill="#5b1a13"/><rect x="412" y="242" width="1" height="2" fill="#d75442"/><rect x="414" y="245" width="3" height="6" fill="#5b1a13"/><rect x="415" y="246" width="1" height="4" fill="#d75442"/><rect x="425" y="243" width="3" height="1" fill="#5b1a13"/><rect x="436" y="209" width="3" height="13" fill="#5b1a13"/><rect x="437" y="210" width="1" height="11" fill="#d75442"/><rect x="451" y="205" width="3" height="7" fill="#5b1a13"/><rect x="452" y="206" width="1" height="5" fill="#d75442"/><rect x="458" y="210" width="3" height="6" fill="#5b1a13"/><rect x="459" y="211" width="1" height="4" fill="#d75442"/><rect x="465" y="199" width="3" height="4" fill="#5b1a13"/><rect x="466" y="200" width="1" height="2" fill="#d75442"/><rect x="473" y="192" width="3" height="7" fill="#5b1a13"/><rect x="474" y="193" width="1" height="5" fill="#d75442"/><rect x="476" y="199" width="3" height="16" fill="#5b1a13"/><rect x="477" y="200" width="1" height="14" fill="#d75442"/><rect x="480" y="215" width="3" height="3" fill="#5b1a13"/><rect x="481" y="216" width="1" height="1" fill="#d75442"/><rect x="484" y="217" width="3" height="3" fill="#5b1a13"/><rect x="485" y="218" width="1" height="1" fill="#d75442"/><rect x="487" y="221" width="3" height="17" fill="#5b1a13"/><rect x="488" y="222" width="1" height="15" fill="#d75442"/><rect x="502" y="204" width="3" height="10" fill="#5b1a13"/><rect x="503" y="205" width="1" height="8" fill="#d75442"/><rect x="509" y="202" width="3" height="1" fill="#5b1a13"/><rect x="516" y="193" width="3" height="1" fill="#5b1a13"/><rect x="520" y="193" width="3" height="8" fill="#5b1a13"/><rect x="521" y="194" width="1" height="6" fill="#d75442"/><rect x="527" y="196" width="3" height="21" fill="#5b1a13"/><rect x="528" y="197" width="1" height="19" fill="#d75442"/><rect x="531" y="216" width="3" height="3" fill="#5b1a13"/><rect x="532" y="217" width="1" height="1" fill="#d75442"/><rect x="534" y="218" width="3" height="17" fill="#5b1a13"/><rect x="535" y="219" width="1" height="15" fill="#d75442"/><rect x="549" y="223" width="3" height="1" fill="#5b1a13"/><rect x="560" y="213" width="3" height="3" fill="#5b1a13"/><rect x="561" y="214" width="1" height="1" fill="#d75442"/><rect x="567" y="208" width="3" height="2" fill="#5b1a13"/><rect x="568" y="208" width="1" height="2" fill="#d75442" fill-opacity="0.55"/><rect x="578" y="195" width="3" height="2" fill="#5b1a13"/><rect x="579" y="195" width="1" height="2" fill="#d75442" fill-opacity="0.55"/><rect x="593" y="157" width="3" height="3" fill="#5b1a13"/><rect x="594" y="158" width="1" height="1" fill="#d75442"/><rect x="611" y="137" width="3" height="5" fill="#5b1a13"/><rect x="612" y="138" width="1" height="3" fill="#d75442"/><rect x="614" y="141" width="3" height="1" fill="#5b1a13"/><rect x="618" y="141" width="3" height="2" fill="#5b1a13"/><rect x="619" y="141" width="1" height="2" fill="#d75442" fill-opacity="0.55"/><rect x="636" y="100" width="3" height="11" fill="#5b1a13"/><rect x="637" y="101" width="1" height="9" fill="#d75442"/><rect x="644" y="111" width="3" height="22" fill="#5b1a13"/><rect x="645" y="112" width="1" height="20" fill="#d75442"/><rect x="651" y="131" width="3" height="3" fill="#5b1a13"/><rect x="652" y="132" width="1" height="1" fill="#d75442"/><rect x="662" y="87" width="3" height="7" fill="#5b1a13"/><rect x="663" y="88" width="1" height="5" fill="#d75442"/><rect x="669" y="91" width="3" height="3" fill="#5b1a13"/><rect x="670" y="92" width="1" height="1" fill="#d75442"/><rect x="673" y="93" width="3" height="20" fill="#5b1a13"/><rect x="674" y="94" width="1" height="18" fill="#d75442"/><rect x="680" y="104" width="3" height="1" fill="#5b1a13"/><rect x="687" y="99" width="3" height="3" fill="#5b1a13"/><rect x="688" y="100" width="1" height="1" fill="#d75442"/><rect x="698" y="89" width="3" height="9" fill="#5b1a13"/><rect x="699" y="90" width="1" height="7" fill="#d75442"/><rect x="709" y="88" width="3" height="6" fill="#5b1a13"/><rect x="710" y="89" width="1" height="4" fill="#d75442"/><rect x="716" y="76" width="3" height="5" fill="#5b1a13"/><rect x="717" y="77" width="1" height="3" fill="#d75442"/><rect x="720" y="80" width="3" height="12" fill="#5b1a13"/><rect x="721" y="81" width="1" height="10" fill="#d75442"/><rect x="731" y="71" width="3" height="11" fill="#5b1a13"/><rect x="732" y="72" width="1" height="9" fill="#d75442"/><rect x="734" y="82" width="3" height="24" fill="#5b1a13"/><rect x="735" y="83" width="1" height="22" fill="#d75442"/><rect x="738" y="105" width="3" height="9" fill="#5b1a13"/><rect x="739" y="106" width="1" height="7" fill="#d75442"/><rect x="745" y="107" width="3" height="9" fill="#5b1a13"/><rect x="746" y="108" width="1" height="7" fill="#d75442"/><rect x="753" y="111" width="3" height="17" fill="#5b1a13"/><rect x="754" y="112" width="1" height="15" fill="#d75442"/><rect x="756" y="128" width="3" height="7" fill="#5b1a13"/><rect x="757" y="129" width="1" height="5" fill="#d75442"/><rect x="767" y="121" width="3" height="15" fill="#5b1a13"/><rect x="768" y="122" width="1" height="13" fill="#d75442"/><rect x="771" y="136" width="3" height="1" fill="#5b1a13"/><rect x="782" y="118" width="3" height="10" fill="#5b1a13"/><rect x="783" y="119" width="1" height="8" fill="#d75442"/><rect x="785" y="127" width="3" height="1" fill="#5b1a13"/><rect x="789" y="127" width="3" height="4" fill="#5b1a13"/><rect x="790" y="128" width="1" height="2" fill="#d75442"/><rect x="796" y="114" width="3" height="9" fill="#5b1a13"/><rect x="797" y="115" width="1" height="7" fill="#d75442"/><rect x="807" y="92" width="3" height="8" fill="#5b1a13"/><rect x="808" y="93" width="1" height="6" fill="#d75442"/><rect x="814" y="95" width="3" height="1" fill="#5b1a13"/><rect x="818" y="95" width="3" height="10" fill="#5b1a13"/><rect x="819" y="96" width="1" height="8" fill="#d75442"/><rect x="822" y="104" width="3" height="5" fill="#5b1a13"/><rect x="823" y="105" width="1" height="3" fill="#d75442"/><rect x="825" y="109" width="3" height="14" fill="#5b1a13"/><rect x="826" y="110" width="1" height="12" fill="#d75442"/><rect x="833" y="118" width="3" height="3" fill="#5b1a13"/><rect x="834" y="119" width="1" height="1" fill="#d75442"/><rect x="836" y="120" width="3" height="11" fill="#5b1a13"/><rect x="837" y="121" width="1" height="9" fill="#d75442"/><rect x="840" y="130" width="3" height="2" fill="#5b1a13"/><rect x="841" y="130" width="1" height="2" fill="#d75442" fill-opacity="0.55"/><rect x="851" y="95" width="3" height="13" fill="#5b1a13"/><rect x="852" y="96" width="1" height="11" fill="#d75442"/><rect x="854" y="108" width="3" height="21" fill="#5b1a13"/><rect x="855" y="109" width="1" height="19" fill="#d75442"/><rect x="862" y="119" width="3" height="12" fill="#5b1a13"/><rect x="863" y="120" width="1" height="10" fill="#d75442"/><rect x="865" y="131" width="3" height="9" fill="#5b1a13"/><rect x="866" y="132" width="1" height="7" fill="#d75442"/><rect x="880" y="121" width="3" height="4" fill="#5b1a13"/><rect x="881" y="122" width="1" height="2" fill="#d75442"/><rect x="887" y="111" width="3" height="12" fill="#5b1a13"/><rect x="888" y="112" width="1" height="10" fill="#d75442"/><rect x="905" y="93" width="3" height="5" fill="#5b1a13"/><rect x="906" y="94" width="1" height="3" fill="#d75442"/><rect x="916" y="83" width="3" height="20" fill="#5b1a13"/><rect x="917" y="84" width="1" height="18" fill="#d75442"/><rect x="920" y="102" width="3" height="2" fill="#5b1a13"/><rect x="921" y="102" width="1" height="2" fill="#d75442" fill-opacity="0.55"/><rect x="927" y="100" width="3" height="7" fill="#5b1a13"/><rect x="928" y="101" width="1" height="5" fill="#d75442"/><rect x="942" y="79" width="3" height="1" fill="#5b1a13"/><rect x="949" y="80" width="3" height="10" fill="#5b1a13"/><rect x="950" y="81" width="1" height="8" fill="#d75442"/><rect x="956" y="86" width="3" height="3" fill="#5b1a13"/><rect x="957" y="87" width="1" height="1" fill="#d75442"/><rect x="964" y="79" width="3" height="15" fill="#5b1a13"/><rect x="965" y="80" width="1" height="13" fill="#d75442"/><rect x="967" y="93" width="3" height="11" fill="#5b1a13"/><rect x="968" y="94" width="1" height="9" fill="#d75442"/><rect x="971" y="103" width="3" height="3" fill="#5b1a13"/><rect x="972" y="104" width="1" height="1" fill="#d75442"/><rect x="982" y="98" width="3" height="18" fill="#5b1a13"/><rect x="983" y="99" width="1" height="16" fill="#d75442"/><rect x="985" y="115" width="3" height="2" fill="#5b1a13"/><rect x="986" y="115" width="1" height="2" fill="#d75442" fill-opacity="0.55"/><rect x="993" y="113" width="3" height="8" fill="#5b1a13"/><rect x="994" y="114" width="1" height="6" fill="#d75442"/><rect x="1000" y="116" width="3" height="13" fill="#5b1a13"/><rect x="1001" y="117" width="1" height="11" fill="#d75442"/><rect x="1004" y="129" width="3" height="5" fill="#5b1a13"/><rect x="1005" y="130" width="1" height="3" fill="#d75442"/><rect x="1007" y="134" width="3" height="10" fill="#5b1a13"/><rect x="1008" y="135" width="1" height="8" fill="#d75442"/><rect x="1011" y="143" width="3" height="34" fill="#5b1a13"/><rect x="1012" y="144" width="1" height="32" fill="#d75442"/><rect x="1014" y="176" width="3" height="13" fill="#5b1a13"/><rect x="1015" y="177" width="1" height="11" fill="#d75442"/><rect x="1022" y="186" width="3" height="1" fill="#5b1a13"/><rect x="1025" y="187" width="3" height="11" fill="#5b1a13"/><rect x="1026" y="188" width="1" height="9" fill="#d75442"/><rect x="1029" y="197" width="3" height="17" fill="#5b1a13"/><rect x="1030" y="198" width="1" height="15" fill="#d75442"/><rect x="1040" y="202" width="3" height="4" fill="#5b1a13"/><rect x="1041" y="203" width="1" height="2" fill="#d75442"/><rect x="1047" y="189" width="3" height="14" fill="#5b1a13"/><rect x="1048" y="190" width="1" height="12" fill="#d75442"/><rect x="1051" y="202" width="3" height="4" fill="#5b1a13"/><rect x="1052" y="203" width="1" height="2" fill="#d75442"/><rect x="1054" y="205" width="3" height="11" fill="#5b1a13"/><rect x="1055" y="206" width="1" height="9" fill="#d75442"/><rect x="1062" y="207" width="3" height="3" fill="#5b1a13"/><rect x="1063" y="208" width="1" height="1" fill="#d75442"/><rect x="1065" y="210" width="3" height="5" fill="#5b1a13"/><rect x="1066" y="211" width="1" height="3" fill="#d75442"/><rect x="1069" y="214" width="3" height="6" fill="#5b1a13"/><rect x="1070" y="215" width="1" height="4" fill="#d75442"/><rect x="1073" y="219" width="3" height="12" fill="#5b1a13"/><rect x="1074" y="220" width="1" height="10" fill="#d75442"/><rect x="1076" y="230" width="3" height="3" fill="#5b1a13"/><rect x="1077" y="231" width="1" height="1" fill="#d75442"/><rect x="1080" y="232" width="3" height="20" fill="#5b1a13"/><rect x="1081" y="233" width="1" height="18" fill="#d75442"/><rect x="1084" y="251" width="3" height="9" fill="#5b1a13"/><rect x="1085" y="252" width="1" height="7" fill="#d75442"/><rect x="1087" y="260" width="3" height="12" fill="#5b1a13"/><rect x="1088" y="261" width="1" height="10" fill="#d75442"/><rect x="1094" y="272" width="3" height="15" fill="#5b1a13"/><rect x="1095" y="273" width="1" height="13" fill="#d75442"/><rect x="1109" y="260" width="3" height="13" fill="#5b1a13"/><rect x="1110" y="261" width="1" height="11" fill="#d75442"/><rect x="1127" y="202" width="3" height="15" fill="#5b1a13"/><rect x="1128" y="203" width="1" height="13" fill="#d75442"/><rect x="1131" y="216" width="3" height="4" fill="#5b1a13"/><rect x="1132" y="217" width="1" height="2" fill="#d75442"/><rect x="1134" y="219" width="3" height="2" fill="#5b1a13"/><rect x="1135" y="219" width="1" height="2" fill="#d75442" fill-opacity="0.55"/><rect x="1142" y="220" width="3" height="19" fill="#5b1a13"/><rect x="1143" y="221" width="1" height="17" fill="#d75442"/><rect x="1145" y="239" width="3" height="37" fill="#5b1a13"/><rect x="1146" y="240" width="1" height="35" fill="#d75442"/><rect x="1149" y="276" width="3" height="10" fill="#5b1a13"/><rect x="1150" y="277" width="1" height="8" fill="#d75442"/><rect x="1153" y="285" width="3" height="21" fill="#5b1a13"/><rect x="1154" y="286" width="1" height="19" fill="#d75442"/><rect x="1156" y="305" width="3" height="3" fill="#5b1a13"/><rect x="1157" y="306" width="1" height="1" fill="#d75442"/><rect x="1160" y="307" width="3" height="32" fill="#5b1a13"/><rect x="1161" y="308" width="1" height="30" fill="#d75442"/><rect x="1171" y="323" width="3" height="6" fill="#5b1a13"/><rect x="1172" y="324" width="1" height="4" fill="#d75442"/><rect x="1174" y="329" width="3" height="21" fill="#5b1a13"/><rect x="1175" y="330" width="1" height="19" fill="#d75442"/><rect x="1185" y="327" width="3" height="13" fill="#5b1a13"/><rect x="1186" y="328" width="1" height="11" fill="#d75442"/><rect x="1189" y="340" width="3" height="4" fill="#5b1a13"/><rect x="1190" y="341" width="1" height="2" fill="#d75442"/><rect x="1193" y="344" width="3" height="7" fill="#5b1a13"/><rect x="1194" y="345" width="1" height="5" fill="#d75442"/><rect x="1196" y="350" width="3" height="7" fill="#5b1a13"/><rect x="1197" y="351" width="1" height="5" fill="#d75442"/><rect x="1200" y="357" width="3" height="30" fill="#5b1a13"/><rect x="1201" y="358" width="1" height="28" fill="#d75442"/><rect x="1204" y="387" width="3" height="23" fill="#5b1a13"/><rect x="1205" y="388" width="1" height="21" fill="#d75442"/>
<path d="M1211.5 400.9V438.6" stroke="#7a1c14" stroke-width="1"/>
</g>
<path d="M6.5 338.7 L48.5 331.1 L67.9 327.9 L77.5 326.7 L93.7 326.7 L109.9 324.6 L129.2 322.2 L151.9 320.6 L177.7 315.7 L190.0 314.6 L201.3 311.1 L208.9 310.2 L227.8 304.4 L242.9 300.4 L248.0 300.1 L259.3 296.0 L278.2 285.3 L287.6 280.1 L292.0 279.6 L305.3 270.7 L320.8 261.9 L335.4 253.5 L343.7 250.0 L351.6 244.6 L359.6 240.6 L375.8 235.7 L380.0 235.3 L390.0 231.7 L394.5 229.9 L401.0 228.8 L422.0 226.1 L436.5 222.4 L447.9 219.1 L460.8 216.7 L473.7 213.9 L493.1 213.9 L509.2 212.8 L525.4 212.8 L541.6 215.9 L558.9 216.8 L570.4 216.4 L579.4 215.4 L587.7 211.8 L607.9 201.1 L623.0 194.2 L638.1 186.0 L645.7 182.8 L652.0 180.9 L660.8 174.6 L668.3 169.2 L675.9 164.6 L684.4 160.0 L688.5 157.6 L702.3 150.6 L710.3 145.2 L717.5 140.0 L721.6 135.9 L731.2 127.9 L738.9 123.6 L749.4 117.4 L759.7 112.9 L772.3 110.4 L785.2 108.0 L804.6 106.5 L824.0 106.0 L836.9 105.2 L845.0 107.3 L853.1 107.7 L869.2 109.3 L885.4 111.7 L901.6 114.6 L918.9 114.6 L927.7 114.5 L938.1 112.5 L945.8 110.1 L960.4 106.2 L974.9 104.6 L989.5 104.9 L1000.8 106.2 L1008.9 107.4 L1015.3 110.1 L1021.8 111.9 L1029.9 116.2 L1035.8 119.9 L1043.0 122.2 L1050.3 125.0 L1059.2 129.4 L1065.4 132.7 L1072.1 135.9 L1080.2 141.5 L1087.5 149.1 L1095.0 158.0 L1103.1 165.2 L1112.8 172.5 L1118.5 179.1 L1124.1 182.2 L1131.0 186.8 L1140.7 194.4 L1150.4 203.3 L1157.7 212.2 L1164.9 221.0 L1173.5 233.3 L1181.6 241.4 L1191.5 252.2 L1197.7 257.5 L1204.8 266.0 L1212.1 275.3" stroke="#000" stroke-width="2" fill="none" stroke-linejoin="round"/>
<g clip-path="url(#cp)" fill="none" stroke-width="2" stroke-linejoin="round">
<path d="M7.1 504.7 L11.5 501.9 L14.5 507.4 L18.2 510.4 L25.2 517.5 L29.3 527.6 L33.3 534.2 L36.3 541.7 L40.4 547.3 L44.4 544.3 L48.5 547.7 L51.9 550.4 L54.5 525.1 L58.6 524.1 L61.6 528.6 L64.6 534.6 L68.7 544.7 L72.7 547.7 L79.8 555.8 L83.8 558.9 L87.4 562.5 L91.3 545.3 L94.9 547.3 L98.9 547.3 L102.6 544.7 L106.0 538.3 L109.0 523.5 L113.1 525.1 L117.1 530.6 L124.6 541.7 L128.2 536.2 L131.3 538.7 L134.9 542.3 L139.3 536.6 L142.4 529.6 L145.0 518.5 L149.4 518.1 L153.1 515.4 L156.5 505.3 L160.1 507.0 L167.2 514.4 L171.2 502.3 L174.3 506.8 L178.3 491.2 L181.7 492.8 L185.8 496.3 L189.8 498.3 L193.5 501.3 L196.3 500.3 L200.3 489.8 L205.0 495.2 L209.0 506.3 L217.1 522.5 L225.6 538.7 L233.2 519.5 L236.7 522.9 L240.3 521.5 L248.0 529.6 L251.5 518.1 L254.5 520.5 L258.6 533.6 L265.6 541.7 L269.7 529.6 L276.8 517.5 L280.4 521.5 L284.4 512.0 L287.9 518.5 L291.5 516.4 L294.5 521.5 L298.6 517.5 L302.2 494.6 L305.6 502.3 L309.3 500.3 L316.3 518.1 L320.4 506.3 L323.8 511.0 L327.8 518.5 L331.9 518.5 L334.5 499.3 L342.6 505.3 L345.4 498.3 L349.7 504.7 L353.5 507.4 L357.1 516.4 L367.2 533.6 L371.3 528.6 L374.9 535.6 L378.7 540.3 L382.4 539.7 L385.4 531.2 L389.4 533.6 L393.5 537.6 L396.5 543.7 L400.1 551.2 L403.6 553.8 L411.2 558.4 L415.1 560.5 L418.7 559.3 L422.8 560.5 L425.8 560.5 L429.4 525.5 L433.5 516.4 L440.3 527.1 L444.0 526.5 L447.6 524.5 L458.1 535.2 L462.1 529.6 L465.6 531.2 L469.6 519.9 L473.6 524.5 L476.7 535.6 L484.3 543.7 L491.5 555.4 L494.5 552.8 L498.6 545.1 L502.2 547.7 L506.3 548.4 L509.7 550.4 L513.3 537.0 L516.8 540.3 L520.4 540.3 L524.4 542.3 L527.9 548.8 L531.5 550.8 L534.5 555.4 L538.6 557.2 L542.2 555.4 L545.6 552.4 L549.7 554.4 L552.7 549.8 L556.7 539.7 L560.8 543.1 L564.8 536.2 L567.4 540.7 L571.9 527.6 L574.9 526.5 L578.5 528.6 L582.0 515.4 L585.4 495.2 L589.5 491.2 L593.5 495.2 L596.5 496.3 L600.6 501.3 L604.2 501.3 L607.2 493.8 L611.3 491.6 L614.9 497.7 L618.7 494.6 L622.4 496.3 L625.4 492.6 L629.4 494.6 L633.5 475.0 L637.1 489.2 L644.2 510.4 L651.6 517.5 L655.3 499.9 L658.7 488.6 L665.8 498.3 L669.4 497.3 L674.5 510.4 L680.3 521.5 L684.0 516.8 L687.6 520.5 L691.4 516.8 L695.1 514.0 L698.1 514.8 L702.1 519.5 L706.2 528.0 L709.6 531.2 L713.6 525.1 L716.7 528.6 L720.3 535.6 L724.7 540.3 L727.7 536.2 L731.5 539.7 L734.5 546.7 L738.6 549.4 L742.2 551.2 L746.3 553.8 L753.3 560.9 L756.8 562.5 L760.4 561.5 L764.4 554.8 L771.5 560.5 L778.6 549.4 L785.6 554.4 L789.7 548.4 L793.1 545.7 L800.4 541.7 L804.8 532.2 L807.8 533.2 L814.9 538.7 L818.9 542.7 L826.0 551.2 L829.7 553.2 L833.5 552.4 L837.1 557.4 L840.6 559.3 L844.2 546.7 L847.8 528.6 L851.3 527.6 L854.9 535.0 L858.7 539.1 L865.4 547.3 L873.5 544.7 L876.5 546.7 L884.2 538.7 L891.6 546.7 L898.7 534.6 L905.8 530.2 L909.4 533.6 L913.5 528.6 L916.9 536.2 L920.3 538.3 L928.0 545.7 L931.4 547.3 L934.5 541.7 L938.1 525.1 L942.1 527.6 L945.6 523.5 L949.6 529.2 L956.7 536.2 L960.3 532.2 L967.4 542.7 L971.5 545.1 L974.5 542.3 L978.6 542.3 L982.2 547.3 L985.6 551.4 L989.3 541.1 L993.3 544.3 L996.3 542.3 L1000.4 547.3 L1004.4 550.8 L1011.5 562.9 L1014.5 566.5 L1018.6 568.3 L1022.2 568.3 L1029.3 572.6 L1033.1 573.4 L1036.7 575.4 L1040.4 575.4 L1044.8 564.3 L1050.9 566.9 L1054.9 570.4 L1058.9 569.4 L1062.6 567.5 L1066.0 568.5 L1073.1 572.0 L1080.6 577.4 L1084.2 578.6 L1087.8 581.5 L1098.7 584.5 L1105.4 538.3 L1109.4 543.3 L1113.5 539.7 L1116.5 529.2 L1120.5 538.3 L1124.2 512.0 L1127.6 518.1 L1131.6 521.1 L1135.3 526.5 L1138.7 529.2 L1141.7 534.6 L1145.8 544.3 L1149.8 547.3 L1156.9 554.8 L1160.3 559.3 L1164.0 561.9 L1167.6 563.3 L1171.4 563.3 L1175.1 566.3 L1178.1 566.3 L1182.1 561.5 L1185.6 563.5 L1189.6 565.3 L1193.6 566.3 L1196.7 568.9 L1204.3 574.0 L1210.0 577.0 L1212.4 578.4" stroke="#43a047" stroke-opacity="0.92"/>
<path d="M7.1 573.0 L12.1 575.4 L19.2 578.6 L25.6 580.7 L29.3 551.2 L33.3 553.8 L36.3 542.3 L40.4 541.1 L44.0 543.7 L47.5 536.2 L51.5 539.7 L54.1 547.3 L58.6 550.4 L63.0 541.1 L65.6 543.1 L69.7 534.6 L73.1 535.2 L76.3 530.6 L79.8 520.5 L83.8 506.3 L87.4 491.8 L91.3 507.0 L95.9 512.4 L101.0 519.5 L107.0 528.6 L110.1 532.6 L113.5 535.2 L117.1 530.6 L120.6 528.6 L124.2 532.6 L127.6 538.3 L131.3 536.6 L134.9 528.0 L138.3 532.6 L142.4 538.7 L146.4 544.7 L153.5 550.8 L160.5 556.4 L164.6 553.2 L167.2 553.8 L171.2 560.3 L178.7 566.9 L183.8 569.4 L189.8 573.0 L195.5 574.4 L200.9 577.6 L204.4 578.4 L208.0 562.5 L211.0 553.4 L214.1 552.4 L218.1 549.8 L222.1 554.2 L225.6 552.4 L233.2 558.9 L236.7 560.3 L240.3 563.3 L244.3 561.5 L248.8 564.5 L254.5 568.5 L258.6 548.4 L265.6 555.8 L269.7 558.4 L276.8 562.3 L280.4 563.3 L284.4 564.9 L287.9 564.3 L294.5 568.9 L298.6 571.4 L305.6 576.6 L309.7 578.4 L313.7 559.3 L320.8 564.5 L324.4 566.3 L327.4 563.3 L330.9 564.9 L334.5 568.9 L338.9 571.0 L342.6 572.0 L346.0 575.0 L353.5 577.0 L356.5 562.5 L360.6 563.9 L364.2 551.4 L367.2 552.4 L371.3 556.2 L374.9 551.8 L378.3 545.3 L382.4 547.7 L389.4 553.4 L393.9 556.4 L397.5 540.7 L400.9 526.5 L404.6 520.1 L407.6 522.9 L411.6 520.1 L415.1 522.9 L418.7 526.5 L422.8 529.2 L425.8 529.6 L429.4 539.7 L433.5 544.7 L436.9 550.4 L440.3 553.8 L444.0 555.8 L447.6 559.3 L451.4 556.4 L454.5 557.8 L458.1 553.2 L462.1 557.8 L465.6 559.3 L473.6 565.5 L476.7 537.6 L480.3 541.1 L484.7 544.3 L487.5 521.1 L491.5 524.1 L494.5 530.2 L498.6 536.2 L505.6 544.3 L509.7 545.7 L513.3 549.8 L520.4 556.4 L524.4 557.2 L527.5 537.6 L531.5 535.2 L534.5 518.9 L542.2 527.1 L545.6 532.6 L549.3 534.6 L556.7 540.7 L560.8 540.7 L564.8 543.7 L567.4 543.7 L571.9 547.7 L574.9 549.8 L578.5 551.4 L585.4 561.5 L589.5 564.5 L596.5 568.3 L599.5 568.9 L607.2 574.4 L611.3 576.4 L614.9 576.6 L622.4 581.1 L629.4 583.5 L633.5 585.5 L637.1 579.0 L640.5 576.0 L644.2 555.4 L647.2 557.2 L651.6 550.4 L655.3 557.2 L658.7 561.3 L662.8 562.5 L669.4 566.5 L673.5 545.3 L677.5 545.3 L680.3 546.3 L687.6 551.2 L691.4 552.8 L695.1 557.2 L698.1 559.9 L702.1 562.3 L705.6 557.4 L709.6 559.3 L716.7 565.5 L720.3 552.4 L725.4 556.4 L731.5 561.9 L734.5 539.7 L738.6 533.6 L742.2 536.2 L745.6 532.2 L749.7 533.2 L756.3 524.1 L760.4 527.1 L764.4 532.2 L767.9 525.5 L771.5 521.1 L774.5 524.1 L778.6 531.2 L782.2 535.2 L785.6 533.2 L789.3 537.0 L796.7 546.7 L800.8 551.2 L807.8 557.2 L811.9 558.9 L814.5 559.3 L818.9 552.8 L822.6 544.7 L825.4 533.2 L829.7 533.2 L833.5 537.2 L836.5 533.6 L840.6 535.2 L847.8 548.4 L851.9 552.8 L854.9 534.2 L858.7 538.3 L865.4 530.0 L869.4 535.0 L876.5 540.3 L884.2 547.3 L887.6 548.4 L891.6 551.4 L898.7 557.2 L902.8 558.4 L905.8 561.5 L909.4 561.5 L913.5 563.5 L916.9 554.4 L924.0 548.8 L928.0 552.4 L934.5 556.4 L942.1 563.5 L945.6 566.5 L949.6 559.3 L953.6 558.4 L960.3 562.5 L964.3 554.8 L968.4 544.7 L971.5 541.1 L974.5 544.3 L978.6 546.3 L982.2 532.2 L985.6 530.2 L989.7 535.2 L993.3 529.2 L996.3 533.2 L1000.4 522.5 L1004.4 520.1 L1007.5 515.4 L1011.5 485.1 L1014.5 480.1 L1018.6 479.1 L1022.2 487.2 L1025.6 488.2 L1029.7 481.1 L1036.7 489.8 L1040.4 496.3 L1047.4 511.4 L1051.9 507.0 L1054.5 499.7 L1062.6 512.4 L1065.4 513.0 L1069.7 510.0 L1073.5 501.3 L1076.5 497.3 L1080.6 498.3 L1084.2 489.6 L1087.2 490.2 L1091.3 497.3 L1094.9 498.3 L1098.7 489.8 L1102.4 501.3 L1105.4 516.4 L1109.4 522.1 L1113.5 530.6 L1116.5 536.2 L1120.5 531.2 L1124.2 539.7 L1127.6 543.1 L1131.6 545.3 L1135.3 544.3 L1138.7 545.3 L1141.7 528.6 L1145.4 511.4 L1149.4 514.4 L1153.5 502.3 L1156.3 504.3 L1160.3 491.8 L1167.6 505.3 L1171.4 512.4 L1174.5 495.8 L1178.1 503.9 L1182.1 509.0 L1185.6 506.3 L1189.6 500.3 L1193.6 504.3 L1196.7 503.3 L1200.3 491.8 L1204.3 476.1 L1207.4 483.1 L1210.0 481.7 L1212.4 480.9" stroke="#f55" stroke-opacity="0.92"/>
</g>
<g stroke="#4d4d4d" stroke-width="1" fill="none" shape-rendering="crispEdges">
<rect x="6.5" y="43.5" width="1257.0" height="569.0"/>
<path d="M1213.5 43.5V593.5M6.5 593.5H1213.5M6.5 469.5H1263.5"/>
<path d="M48.5 593.5v3.5M132.5 593.5v3.5M208.5 593.5v3.5M288.5 593.5v3.5M365.5 593.5v3.5M441.5 593.5v3.5M521.5 593.5v3.5M597.5 593.5v3.5M674.5 593.5v3.5M754.5 593.5v3.5M834.5 593.5v3.5M910.5 593.5v3.5M994.5 593.5v3.5M1070.5 593.5v3.5M1150.5 593.5v3.5M1213.5 69.5h3.5M1213.5 123.5h3.5M1213.5 177.5h3.5M1213.5 231.5h3.5M1213.5 285.5h3.5M1213.5 339.5h3.5M1213.5 392.5h3.5M1213.5 446.5h3.5M1213.5 485.5h3.5M1213.5 513.5h3.5M1213.5 541.5h3.5M1213.5 569.5h3.5"/>
</g>
<g font-family="'Liberation Sans', sans-serif" font-size="11" fill="#555">
<text x="1220.4" y="73.7" textLength="38.5" lengthAdjust="spacingAndGlyphs">1.60000</text>
<text x="1220.4" y="127.7" textLength="38.5" lengthAdjust="spacingAndGlyphs">1.55000</text>
<text x="1220.4" y="181.7" textLength="38.5" lengthAdjust="spacingAndGlyphs">1.50000</text>
<text x="1220.4" y="235.7" textLength="38.5" lengthAdjust="spacingAndGlyphs">1.45000</text>
<text x="1220.4" y="289.7" textLength="38.5" lengthAdjust="spacingAndGlyphs">1.40000</text>
<text x="1220.4" y="343.7" textLength="38.5" lengthAdjust="spacingAndGlyphs">1.35000</text>
<text x="1220.4" y="396.7" textLength="38.5" lengthAdjust="spacingAndGlyphs">1.30000</text>
<text x="1220.4" y="450.7" textLength="38.5" lengthAdjust="spacingAndGlyphs">1.25000</text>
<text x="1220.4" y="489.9" textLength="38.5" lengthAdjust="spacingAndGlyphs">40.0000</text>
<text x="1220.4" y="517.9" textLength="38.5" lengthAdjust="spacingAndGlyphs">30.0000</text>
<text x="1220.4" y="545.9" textLength="38.5" lengthAdjust="spacingAndGlyphs">20.0000</text>
<text x="1220.4" y="573.9" textLength="38.5" lengthAdjust="spacingAndGlyphs">10.0000</text>
<text x="48.5" y="608" text-anchor="middle">Aug</text>
<text x="132.5" y="608" text-anchor="middle">Sep</text>
<text x="208.5" y="608" text-anchor="middle">2</text>
<text x="288.5" y="608" text-anchor="middle">Nov</text>
<text x="365.5" y="608" text-anchor="middle">30</text>
<text x="441.5" y="608" text-anchor="middle" font-weight="bold">2008</text>
<text x="521.5" y="608" text-anchor="middle">Feb</text>
<text x="597.5" y="608" text-anchor="middle">Mar</text>
<text x="674.5" y="608" text-anchor="middle">Apr</text>
<text x="754.5" y="608" text-anchor="middle">May</text>
<text x="834.5" y="608" text-anchor="middle">Jun</text>
<text x="910.5" y="608" text-anchor="middle">Jul</text>
<text x="994.5" y="608" text-anchor="middle">Aug</text>
<text x="1070.5" y="608" text-anchor="middle">Sep</text>
<text x="1150.5" y="608" text-anchor="middle">Oct</text>
</g>
<rect x="1213" y="430" width="50.5" height="16" fill="#d75442"/>
<path d="M1213 437.5h3.5" stroke="#fff" stroke-width="1" shape-rendering="crispEdges"/>
<text x="1220.3" y="441.6" font-family="'Liberation Sans', sans-serif" font-size="11" font-weight="bold" fill="#fff" textLength="38.8" lengthAdjust="spacingAndGlyphs">1.25871</text>
<g font-family="'Liberation Sans', sans-serif" font-weight="bold" font-size="21">
<text x="154.0" y="361.8" fill="#38761d" textLength="204.4" lengthAdjust="spacingAndGlyphs">Green line way above</text>
<text x="154.0" y="381.8" fill="#38761d" textLength="224.2" lengthAdjust="spacingAndGlyphs">the red and price above</text>
<text x="154.0" y="401.9" fill="#38761d" textLength="157.6" lengthAdjust="spacingAndGlyphs">moving average.</text>
<text x="405.1" y="367.8" fill="#000" textLength="143.2" lengthAdjust="spacingAndGlyphs">Both lines very</text>
<text x="405.1" y="387.8" fill="#000" textLength="140.0" lengthAdjust="spacingAndGlyphs">close &gt;&gt; range</text>
<text x="571.9" y="362.8" fill="#38761d" textLength="141.0" lengthAdjust="spacingAndGlyphs">Green line way</text>
<text x="571.9" y="382.8" fill="#38761d" textLength="129.9" lengthAdjust="spacingAndGlyphs">above the red</text>
<text x="571.9" y="402.9" fill="#38761d" textLength="152.1" lengthAdjust="spacingAndGlyphs">and price above</text>
<text x="571.9" y="422.9" fill="#38761d" textLength="71.1" lengthAdjust="spacingAndGlyphs">moving</text>
<text x="571.9" y="442.9" fill="#38761d" textLength="81.1" lengthAdjust="spacingAndGlyphs">average.</text>
<text x="779.2" y="364.8" fill="#000" textLength="143.2" lengthAdjust="spacingAndGlyphs">Both lines very</text>
<text x="779.2" y="384.8" fill="#000" textLength="140.0" lengthAdjust="spacingAndGlyphs">close &gt;&gt; range</text>
<text x="1000.9" y="369.8" fill="#cc0000" textLength="141.0" lengthAdjust="spacingAndGlyphs">Green line way</text>
<text x="1000.9" y="389.8" fill="#cc0000" textLength="169.9" lengthAdjust="spacingAndGlyphs">below the red and</text>
<text x="1000.9" y="409.9" fill="#cc0000" textLength="109.9" lengthAdjust="spacingAndGlyphs">price below</text>
<text x="1000.9" y="429.9" fill="#cc0000" textLength="157.6" lengthAdjust="spacingAndGlyphs">moving average.</text>
</g>
<g font-family="'Liberation Sans', sans-serif" font-size="12.6" fill="#0a0a0a">
<text x="5.5" y="16" textLength="61.5" lengthAdjust="spacingAndGlyphs" font-weight="bold" fill="#1b84c5">Tradeciety</text>
<text x="71" y="16" textLength="324.5" lengthAdjust="spacingAndGlyphs">published on TradingView.com, June 30, 2016 15:22 UTC</text>
<text x="6.5" y="34" textLength="83.5" lengthAdjust="spacingAndGlyphs" font-weight="bold">FX:EURUSD, D</text>
<text x="93.8" y="34" textLength="49" lengthAdjust="spacingAndGlyphs">1.11099</text>
<text x="159.5" y="34" textLength="109" lengthAdjust="spacingAndGlyphs">−0.00131 (−0.12%)</text>
<text x="273" y="34" textLength="15" lengthAdjust="spacingAndGlyphs" font-weight="bold">O:</text>
<text x="287.3" y="34" textLength="47" lengthAdjust="spacingAndGlyphs" fill="#a61c1c">1.11230</text>
<text x="337.7" y="34" textLength="13.5" lengthAdjust="spacingAndGlyphs" font-weight="bold">H:</text>
<text x="351" y="34" textLength="46.5" lengthAdjust="spacingAndGlyphs" fill="#a61c1c">1.11542</text>
<text x="401.2" y="34" textLength="10" lengthAdjust="spacingAndGlyphs" font-weight="bold">L:</text>
<text x="411.2" y="34" textLength="48.5" lengthAdjust="spacingAndGlyphs" fill="#a61c1c">1.10766</text>
<text x="464.2" y="34" textLength="12" lengthAdjust="spacingAndGlyphs" font-weight="bold">C:</text>
<text x="476" y="34" textLength="49.5" lengthAdjust="spacingAndGlyphs" fill="#a61c1c">1.11099</text>
<path d="M145.7 25.2h11.2l-5.6 11z" fill="#a30d0d"/>
</g>
</svg>
</body></html>
